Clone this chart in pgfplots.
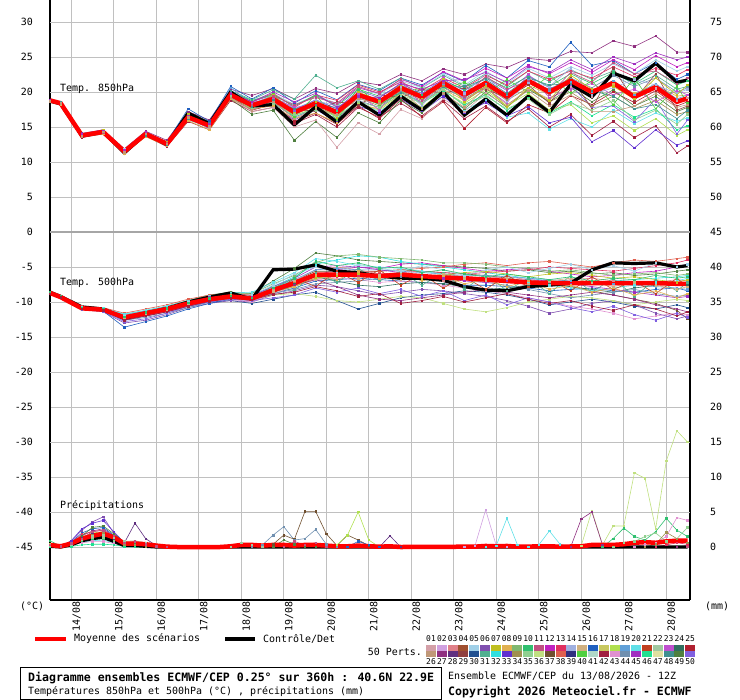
\documentclass[border=0pt]{standalone}
\usepackage{pgfplots}
\usepackage{pgfplotstable}
\pgfplotsset{compat=1.18}
\usepackage{fontspec}
\setmainfont{DejaVu Sans Mono}
\setmonofont{DejaVu Sans Mono}

\definecolor{gridgray}{HTML}{C0C0C0}
\definecolor{p01}{HTML}{D4A0A8}\definecolor{p02}{HTML}{D0A0E0}\definecolor{p03}{HTML}{E08088}\definecolor{p04}{HTML}{A05030}\definecolor{p05}{HTML}{A0D0E8}
\definecolor{p06}{HTML}{8050B0}\definecolor{p07}{HTML}{C0C020}\definecolor{p08}{HTML}{E0B050}\definecolor{p09}{HTML}{80B870}\definecolor{p10}{HTML}{30C070}
\definecolor{p11}{HTML}{C05080}\definecolor{p12}{HTML}{C020C0}\definecolor{p13}{HTML}{E03060}\definecolor{p14}{HTML}{A0B0E0}\definecolor{p15}{HTML}{D0B080}
\definecolor{p16}{HTML}{2060C0}\definecolor{p17}{HTML}{C8C860}\definecolor{p18}{HTML}{B0E050}\definecolor{p19}{HTML}{60A0D8}\definecolor{p20}{HTML}{60E0E8}
\definecolor{p21}{HTML}{C04020}\definecolor{p22}{HTML}{A0C8A0}\definecolor{p23}{HTML}{C050D0}\definecolor{p24}{HTML}{307060}\definecolor{p25}{HTML}{B02030}
\definecolor{p26}{HTML}{C09878}\definecolor{p27}{HTML}{903080}\definecolor{p28}{HTML}{603080}\definecolor{p29}{HTML}{904040}\definecolor{p30}{HTML}{205090}
\definecolor{p31}{HTML}{50B090}\definecolor{p32}{HTML}{30E0E0}\definecolor{p33}{HTML}{6030D0}\definecolor{p34}{HTML}{A09050}\definecolor{p35}{HTML}{90D090}
\definecolor{p36}{HTML}{C0E080}\definecolor{p37}{HTML}{705030}\definecolor{p38}{HTML}{E06050}\definecolor{p39}{HTML}{303080}\definecolor{p40}{HTML}{50D040}
\definecolor{p41}{HTML}{B0D8C8}\definecolor{p42}{HTML}{A02040}\definecolor{p43}{HTML}{E090D0}\definecolor{p44}{HTML}{7090B0}\definecolor{p45}{HTML}{A030C0}
\definecolor{p46}{HTML}{20E090}\definecolor{p47}{HTML}{E0E0A0}\definecolor{p48}{HTML}{409090}\definecolor{p49}{HTML}{508040}\definecolor{p50}{HTML}{8060E0}

% T850, one row per member (hours as column names)
\pgfplotstableread{
name 0 6 18 30 42 54 66 78 90 102 114 126 138 150 162 174 186 198 210 222 234 246 258 270 282 294 306 318 330 342 354 360
ct 18.7 18.3 13.7 14.3 11.3 14.0 12.5 17.0 15.5 20.0 18.0 18.2 15.3 17.9 15.7 18.6 16.7 19.4 17.4 20.0 16.7 19.0 16.7 19.4 17.1 21.1 19.3 22.7 21.6 24.1 21.4 21.7
mn 18.8 18.4 13.8 14.3 11.5 14.0 12.6 16.4 15.2 19.6 18.1 19.0 17.1 18.4 17.1 19.6 18.6 20.6 19.3 21.3 19.6 21.3 19.3 21.6 20.0 21.6 20.0 21.3 19.3 20.7 18.6 19.1
A 18.9 18.6 14.1 14.6 11.9 14.4 13.1 17.2 16.0 20.4 19.5 20.5 19.0 20.5 19.8 21.5 21.0 22.5 21.6 23.3 22.5 24.0 23.5 24.8 24.5 25.8 25.6 27.3 26.5 28.0 25.7 25.7
B 18.7 18.5 13.9 14.6 11.6 14.2 12.9 17.6 15.8 20.8 19.0 20.6 18.4 20.2 18.9 21.1 20.2 22.0 21.0 22.8 21.5 23.8 22.0 24.5 23.6 27.1 23.8 24.5 22.6 24.2 21.8 22.5
C 18.6 18.2 13.5 14.0 11.2 13.7 12.2 15.8 14.6 18.8 17.2 17.8 15.5 16.8 15.0 17.8 16.4 18.4 16.6 18.8 16.2 18.0 15.8 17.6 15.0 16.8 13.8 15.8 13.5 15.2 11.3 12.3
D 18.8 18.3 13.6 14.2 11.4 13.9 12.4 16.0 15.0 19.2 17.6 18.4 16.4 17.8 16.0 18.6 17.2 19.3 17.8 19.6 17.5 18.8 16.4 17.0 14.7 16.2 15.0 17.4 15.5 17.0 15.8 16.3
E 18.7 18.4 13.7 14.1 11.3 13.8 12.5 16.2 14.8 19.0 17.5 18.2 16.0 17.5 15.8 18.0 17.0 19.0 17.2 19.4 17.0 18.5 16.6 17.9 15.6 16.4 12.9 14.5 12.0 14.6 12.4 13.0
F 18.9 18.5 13.8 14.3 11.5 14.0 12.6 16.4 15.0 19.4 17.4 18.2 15.8 17.0 15.4 18.0 16.2 19.0 16.4 18.6 14.8 17.8 15.6 18.2 17.0 19.5 18.2 20.0 18.5 20.2 18.0 18.6
G 18.8 18.4 13.7 14.4 11.6 14.1 12.7 16.5 15.2 19.0 16.8 17.4 13.1 15.8 13.5 17.0 15.6 18.8 17.0 19.8 17.6 20.0 17.8 20.4 18.6 20.6 18.6 20.3 18.0 19.4 17.2 17.8
H 18.7 18.3 13.7 14.2 11.4 13.9 12.5 16.1 14.9 19.1 17.2 17.8 15.0 16.0 12.1 15.6 14.0 17.5 16.2 19.0 17.2 19.8 18.0 20.5 19.0 20.8 19.4 21.0 19.0 20.5 18.8 19.2
I 18.8 18.5 13.9 14.5 11.7 14.3 12.8 16.8 15.6 20.2 18.9 20.3 19.0 22.4 20.6 21.6 20.4 22.0 20.6 22.4 20.8 22.6 20.8 23.0 21.5 23.2 21.8 23.0 21.0 22.4 20.4 20.8
J 18.8 18.4 13.8 14.3 11.5 14.0 12.6 16.3 15.0 19.4 17.8 18.6 16.6 17.8 16.5 18.4 17.4 19.6 17.8 20.2 18.4 20.3 18.0 19.8 17.4 18.2 15.6 16.6 14.5 16.2 13.8 14.6
K 18.9 18.5 14.0 14.5 11.8 14.2 12.9 16.9 15.5 20.0 18.8 19.8 18.2 19.5 18.4 20.8 19.6 21.6 20.6 22.6 21.0 23.0 21.2 23.4 22.0 23.6 22.4 24.0 22.6 24.6 23.0 23.6
L 18.6 18.2 13.6 14.0 11.2 13.6 12.3 15.9 14.6 19.0 17.6 18.0 16.2 17.0 15.6 18.2 17.6 19.8 18.6 20.4 18.8 20.8 19.2 21.0 19.6 21.4 19.6 21.2 19.8 21.0 19.4 19.6
M 18.9 18.6 14.0 14.6 11.7 14.3 12.8 16.7 15.6 20.1 18.6 19.6 18.0 19.4 18.2 20.6 19.8 21.8 20.8 22.9 21.6 23.4 22.0 23.8 22.6 24.2 22.8 24.6 23.2 25.2 23.6 24.2
N 18.7 18.3 13.8 14.4 11.5 14.1 12.6 16.6 15.4 20.6 18.4 19.4 17.6 18.8 17.6 19.8 18.8 20.4 19.0 21.0 19.4 21.2 19.6 21.8 20.2 21.4 20.0 21.6 19.6 21.2 19.0 19.6
O 18.8 18.4 13.8 14.3 11.5 14.0 12.6 16.4 15.2 19.6 18.0 19.2 17.4 18.6 17.4 19.4 18.2 20.0 18.4 20.2 18.2 19.6 17.4 19.2 17.0 18.6 16.6 18.2 16.4 17.6 14.6 15.2
P 18.8 18.4 13.9 14.4 11.6 14.1 12.7 16.6 15.3 19.8 18.3 19.2 17.4 18.9 17.6 20.2 19.2 21.2 19.8 21.8 20.2 22.0 20.2 22.4 20.6 21.0 17.8 18.0 15.8 19.0 14.0 16.0
Q 18.7 18.4 13.7 14.2 11.4 13.9 12.5 16.3 15.1 19.3 17.9 18.8 16.8 18.0 16.6 19.2 18.0 20.2 18.8 20.8 19.0 20.8 18.8 20.6 18.6 20.0 18.0 19.4 17.6 18.8 16.8 17.2
R 18.9 18.5 13.9 14.4 11.6 14.1 12.7 16.5 15.3 19.9 18.6 19.8 17.8 19.6 18.8 21.0 20.0 21.4 20.2 22.0 20.6 22.4 21.0 23.0 21.8 23.0 22.0 23.6 22.2 23.4 22.4 23.2
S 18.8 18.3 13.7 14.3 11.4 14.0 12.5 16.2 15.1 19.5 17.9 18.6 16.4 17.6 16.2 18.8 17.8 20.0 18.6 20.6 19.2 21.0 19.6 21.6 20.4 22.0 20.6 22.4 20.8 22.0 20.0 20.6
T 18.8 18.4 13.8 14.3 11.5 14.0 12.6 16.5 15.4 20.0 18.8 19.6 18.0 19.6 18.0 20.4 19.4 21.0 19.6 21.6 20.4 22.0 20.6 22.2 20.8 22.6 21.2 22.8 21.2 23.0 21.0 21.6
U 18.8 18.5 13.9 14.3 11.6 14.2 12.8 16.6 15.0 19.8 18.4 19.2 17.8 18.2 16.8 19.8 17.4 21.6 18.2 22.2 18.8 20.6 18.4 22.6 19.2 20.4 21.2 19.6 20.4 18.6 20.2 19.6
V 18.7 18.4 13.8 14.2 11.4 14.0 12.6 16.4 15.6 19.6 17.6 19.8 16.4 19.6 16.0 20.6 18.2 19.8 20.6 20.4 21.4 19.6 21.8 20.0 22.4 19.8 21.6 18.2 22.0 17.6 20.8 18.4
W 18.8 18.4 13.8 14.4 11.5 14.1 12.6 16.4 15.3 19.7 18.6 18.4 17.6 17.2 18.6 18.2 19.6 19.2 20.4 19.8 20.6 20.4 19.2 21.0 18.4 22.2 17.6 23.4 18.8 22.6 17.4 18.0
X 18.8 18.3 13.7 14.3 11.5 14.0 12.6 16.3 15.2 19.4 18.2 19.6 16.8 18.8 18.0 18.8 19.4 20.8 18.0 21.8 19.8 22.6 18.6 21.4 20.8 23.4 19.6 20.6 21.8 21.0 19.8 20.4
Y 18.9 18.4 13.9 14.5 11.4 14.2 12.9 16.8 15.0 19.4 17.8 19.6 17.0 18.6 16.4 20.0 18.8 21.0 19.0 21.8 18.6 20.8 17.8 20.6 18.8 22.4 20.4 20.8 19.0 22.0 19.6 21.0
Z 18.8 18.5 13.7 14.4 11.6 13.8 12.5 16.2 15.6 20.2 17.8 18.8 17.6 18.2 17.8 19.2 19.0 19.8 20.2 20.6 20.8 21.8 19.8 22.0 21.0 21.2 20.2 19.4 17.6 18.2 16.2 17.4
AA 18.7 18.3 13.8 14.2 11.4 14.0 12.7 16.6 15.3 19.9 18.2 19.4 18.2 19.2 18.4 20.8 19.8 21.8 18.8 21.4 19.4 22.2 20.4 21.6 19.6 22.8 21.4 24.2 22.6 23.0 21.2 22.0
AB 18.8 18.4 13.8 14.3 11.5 14.1 12.6 16.5 15.1 19.5 17.6 18.4 16.8 17.4 16.6 18.6 17.8 19.6 18.4 20.4 18.0 19.4 17.6 19.0 16.8 18.4 17.4 18.8 16.0 17.4 15.4 16.8
AC 18.8 18.4 13.8 14.4 11.5 14.1 12.6 16.6 15.4 19.8 18.6 20.0 18.6 19.8 17.8 19.4 19.2 21.2 20.4 21.6 21.8 22.8 21.4 23.6 22.8 24.6 23.2 25.0 24.0 25.6 24.6 25.0
AD 18.7 18.4 13.7 14.3 11.4 14.0 12.6 16.4 15.1 19.2 17.4 18.6 16.2 17.6 16.8 19.0 18.4 20.4 17.6 19.8 17.8 20.6 18.2 20.2 18.0 19.6 17.2 17.2 18.0 19.8 17.8 18.2
}\tEightRaw
\pgfplotstabletranspose[colnames from=name,input colnames to=hr]{\tEight}{\tEightRaw}

% T500, one row per member
\pgfplotstableread{
name 0 6 18 30 42 54 66 78 90 102 114 126 138 150 162 174 186 198 210 222 234 246 258 270 282 294 306 318 330 342 354 360
ct -8.6 -9.2 -10.7 -11.0 -12.3 -11.6 -10.9 -10.0 -9.3 -8.7 -9.6 -5.4 -5.3 -4.7 -5.6 -5.8 -6.3 -6.6 -6.6 -6.9 -7.8 -8.3 -8.4 -7.8 -7.6 -7.3 -5.4 -4.4 -4.5 -4.4 -5.0 -4.8
mn -8.7 -9.3 -10.9 -11.1 -12.2 -11.6 -11.0 -10.2 -9.6 -9.2 -9.5 -8.3 -7.3 -6.1 -6.1 -6.1 -6.3 -6.1 -6.3 -6.5 -6.6 -6.8 -7.0 -7.2 -7.3 -7.3 -7.3 -7.3 -7.3 -7.3 -7.4 -7.4
a -8.6 -9.2 -10.8 -10.9 -12.0 -11.3 -10.6 -9.8 -9.0 -8.6 -8.8 -7.0 -5.2 -3.0 -3.4 -4.0 -4.2 -4.4 -4.6 -4.8 -5.0 -5.2 -5.6 -5.4 -5.8 -5.6 -6.0 -5.8 -6.2 -6.0 -5.6 -5.4
b -8.8 -9.4 -11.0 -11.3 -12.6 -12.0 -11.4 -10.6 -10.0 -9.8 -10.2 -9.6 -9.0 -8.6 -9.8 -11.0 -10.2 -9.4 -9.0 -8.8 -8.4 -8.6 -9.0 -9.6 -10.4 -10.0 -9.6 -10.0 -10.6 -11.0 -10.4 -10.8
c -8.7 -9.3 -10.9 -11.2 -12.4 -11.8 -11.2 -10.4 -9.8 -9.4 -9.8 -8.6 -7.6 -6.2 -5.4 -5.0 -5.2 -4.6 -4.4 -4.8 -5.2 -5.6 -5.4 -5.2 -5.6 -6.0 -6.4 -6.2 -5.8 -5.6 -5.0 -4.6
d -8.6 -9.2 -10.7 -10.9 -11.8 -11.2 -10.6 -9.9 -9.3 -8.9 -9.0 -7.8 -6.4 -4.6 -4.0 -3.4 -3.6 -4.2 -4.6 -5.0 -5.4 -5.8 -6.2 -6.6 -7.0 -7.4 -7.2 -7.0 -6.8 -6.6 -6.4 -6.2
e -8.8 -9.4 -11.1 -11.4 -13.0 -12.6 -11.8 -10.8 -10.2 -9.8 -10.0 -9.0 -8.4 -7.6 -7.8 -8.4 -9.0 -8.6 -8.2 -8.4 -8.8 -9.2 -9.8 -10.6 -11.6 -11.0 -10.2 -9.8 -10.4 -11.6 -12.4 -12.0
f -8.7 -9.3 -10.9 -11.1 -12.2 -11.6 -11.0 -10.2 -9.5 -9.0 -9.2 -8.0 -7.0 -5.6 -5.6 -5.8 -5.6 -5.4 -5.6 -5.8 -6.0 -6.2 -6.6 -7.0 -7.4 -7.8 -8.4 -9.0 -9.6 -10.2 -11.2 -12.4
g -8.6 -9.1 -10.6 -10.8 -11.6 -11.0 -10.4 -9.6 -9.0 -8.8 -9.0 -8.2 -7.2 -6.0 -5.8 -5.6 -5.6 -5.4 -5.2 -5.0 -4.6 -4.4 -4.8 -4.4 -4.2 -4.6 -5.0 -4.4 -4.0 -4.2 -3.8 -3.6
h -8.8 -9.3 -11.0 -11.3 -13.6 -12.8 -12.0 -11.0 -10.2 -9.6 -9.6 -8.8 -8.0 -7.0 -6.8 -6.6 -6.8 -7.0 -7.2 -7.4 -7.6 -7.6 -7.8 -8.0 -8.4 -8.2 -8.0 -8.4 -8.6 -8.2 -8.0 -8.4
i -8.7 -9.2 -10.8 -11.0 -12.0 -11.4 -10.8 -10.0 -9.4 -9.0 -9.4 -8.2 -7.0 -5.4 -5.0 -5.4 -6.0 -6.2 -6.6 -7.0 -6.8 -6.6 -6.4 -6.8 -7.2 -6.8 -6.6 -7.0 -7.4 -7.2 -6.8 -7.0
j -8.6 -9.3 -10.9 -11.2 -12.3 -11.8 -11.2 -10.4 -9.8 -9.5 -9.8 -9.0 -8.8 -9.2 -9.8 -10.0 -9.6 -9.2 -9.4 -10.2 -11.0 -11.4 -10.8 -10.0 -9.6 -9.2 -9.4 -9.8 -10.4 -10.0 -9.6 -9.8
k -8.7 -9.3 -10.9 -11.1 -12.1 -11.5 -10.9 -10.1 -9.4 -8.8 -8.8 -7.4 -6.2 -4.4 -3.4 -3.2 -3.6 -3.8 -4.0 -4.4 -4.4 -4.6 -5.0 -5.2 -5.6 -5.4 -5.8 -6.2 -6.0 -5.8 -6.2 -6.0
l -8.8 -9.3 -10.9 -11.2 -12.4 -11.9 -11.3 -10.5 -9.9 -9.6 -10.0 -8.8 -7.8 -6.8 -6.6 -6.8 -7.2 -7.0 -7.2 -7.6 -8.0 -8.4 -8.8 -9.4 -10.0 -10.6 -11.0 -11.6 -12.4 -12.0 -11.6 -11.8
m -8.6 -9.2 -10.8 -11.0 -11.9 -11.3 -10.8 -10.0 -9.4 -9.0 -9.2 -8.0 -6.8 -5.4 -5.2 -5.4 -5.4 -5.6 -5.8 -6.0 -6.2 -6.2 -6.4 -6.6 -6.8 -7.0 -7.2 -7.4 -7.6 -7.8 -8.0 -8.2
n -8.7 -9.3 -11.0 -11.2 -12.5 -12.0 -11.4 -10.6 -9.8 -9.2 -9.2 -8.4 -7.6 -6.6 -6.4 -6.2 -6.0 -5.8 -5.6 -5.8 -6.0 -5.8 -5.6 -5.4 -5.0 -5.2 -5.4 -5.6 -5.2 -4.8 -4.4 -4.0
o -8.7 -9.2 -10.8 -11.1 -12.1 -11.5 -10.9 -10.1 -9.5 -9.1 -9.4 -8.4 -7.4 -6.4 -7.0 -7.6 -7.8 -7.4 -7.2 -7.4 -7.8 -8.2 -8.0 -7.6 -7.4 -7.8 -8.2 -8.6 -8.0 -7.6 -7.2 -7.6
p -8.6 -9.2 -10.7 -10.9 -11.7 -11.2 -10.6 -9.8 -9.2 -8.7 -8.6 -7.2 -5.8 -3.8 -4.2 -4.8 -5.0 -5.2 -5.6 -6.0 -6.4 -6.8 -7.0 -7.2 -7.6 -8.0 -8.4 -8.0 -7.6 -7.2 -7.0 -6.6
q -8.8 -9.4 -11.0 -11.2 -12.6 -12.2 -11.6 -10.8 -10.0 -9.4 -9.6 -8.8 -8.2 -7.4 -7.2 -7.0 -6.6 -6.4 -6.2 -6.4 -6.8 -7.2 -7.6 -8.2 -8.8 -9.4 -9.0 -8.6 -8.2 -8.8 -9.2 -9.0
r -8.7 -9.3 -10.9 -11.1 -12.2 -11.6 -11.0 -10.2 -9.6 -9.2 -9.4 -8.6 -7.8 -6.6 -6.2 -6.0 -6.4 -6.8 -6.6 -6.2 -5.8 -5.6 -6.0 -6.4 -6.0 -5.8 -6.2 -6.6 -6.4 -6.8 -7.2 -6.8
s -8.6 -9.2 -10.8 -11.0 -12.0 -11.4 -10.8 -10.0 -9.3 -8.9 -9.1 -7.8 -6.6 -5.0 -4.8 -5.0 -5.4 -5.8 -6.2 -6.6 -7.0 -7.2 -7.0 -6.8 -7.0 -7.4 -7.8 -8.2 -8.6 -9.0 -9.4 -9.2
t -8.8 -9.4 -11.0 -11.3 -12.5 -11.9 -11.3 -10.5 -9.8 -9.4 -9.6 -8.6 -7.6 -6.8 -7.8 -9.0 -9.6 -9.8 -9.4 -9.0 -8.6 -8.2 -8.6 -9.0 -9.4 -9.0 -8.6 -9.0 -9.6 -10.4 -11.0 -11.4
u -8.7 -9.3 -10.8 -11.2 -12.1 -11.8 -10.8 -10.4 -9.4 -9.4 -9.0 -8.8 -6.6 -7.8 -5.6 -7.2 -5.4 -7.6 -6.0 -8.0 -6.4 -8.2 -6.2 -7.8 -6.8 -8.4 -6.4 -8.2 -7.0 -8.8 -6.6 -7.8
v -8.7 -9.2 -11.0 -11.0 -12.4 -11.4 -11.2 -10.0 -9.8 -8.8 -9.8 -7.6 -8.4 -5.8 -7.2 -5.2 -7.0 -5.6 -7.6 -5.8 -8.2 -6.0 -8.4 -6.6 -8.8 -6.2 -8.6 -6.6 -9.2 -6.8 -8.4 -7.2
w1 -8.7 -9.3 -10.9 -11.0 -12.2 -11.8 -10.8 -10.0 -9.6 -9.0 -9.6 -8.0 -7.8 -6.2 -6.8 -5.6 -6.6 -5.8 -7.0 -6.2 -7.4 -6.8 -7.8 -7.0 -8.2 -7.6 -8.6 -8.0 -9.0 -8.4 -9.4 -8.8
w2 -8.6 -9.2 -10.8 -11.1 -12.0 -11.4 -11.0 -10.0 -9.4 -9.2 -9.0 -7.6 -6.0 -5.0 -5.8 -4.6 -5.2 -5.6 -4.8 -5.4 -6.2 -5.4 -5.0 -5.8 -5.2 -4.6 -5.4 -4.8 -5.6 -4.4 -5.0 -4.6
w3 -8.8 -9.4 -11.0 -11.3 -12.8 -12.4 -11.6 -10.6 -10.0 -9.6 -9.8 -9.4 -9.0 -8.0 -8.6 -8.0 -8.8 -8.2 -9.2 -8.4 -9.8 -9.0 -10.4 -9.4 -10.0 -10.8 -11.4 -10.6 -11.8 -12.6 -11.6 -12.2
w4 -8.7 -9.3 -10.9 -11.1 -12.3 -11.7 -11.1 -10.3 -9.7 -9.3 -9.5 -8.5 -7.0 -6.8 -6.0 -6.6 -6.2 -6.8 -6.4 -6.0 -6.6 -7.0 -6.6 -7.4 -7.0 -6.6 -7.2 -7.8 -7.2 -7.6 -8.2 -7.8
w5 -8.6 -9.2 -10.8 -11.0 -12.1 -11.5 -10.9 -10.1 -9.5 -9.1 -9.4 -8.0 -6.6 -4.2 -4.8 -4.4 -5.2 -5.0 -5.8 -5.4 -6.0 -6.4 -6.0 -6.4 -6.8 -6.4 -7.0 -6.6 -6.8 -6.2 -6.6 -6.4
w6 -8.8 -9.3 -11.0 -11.2 -12.6 -12.0 -11.4 -10.6 -9.9 -9.5 -9.7 -8.9 -8.6 -7.8 -8.4 -9.2 -8.8 -10.2 -9.8 -9.2 -10.0 -9.4 -8.8 -9.6 -10.2 -9.8 -10.6 -11.2 -10.4 -11.0 -12.0 -11.4
}\tFiveRaw
\pgfplotstabletranspose[colnames from=name,input colnames to=hr]{\tFive}{\tFiveRaw}

\pgfplotsset{
  mem/.style={line width=0.6bp, mark=square*, mark size=0.75bp},
  pr/.style={mem},
}
\newcommand{\tf}{\fontsize{10}{12}\selectfont}

\begin{document}
\begin{tikzpicture}
\useasboundingbox (0,0) rectangle (740bp,-700bp);

\begin{axis}[
  at={(50bp,-600bp)}, anchor=south west,
  width=640bp, height=600bp, scale only axis,
  xmin=0, xmax=361.4, ymin=-52.571, ymax=33.143,
  axis x line*=bottom, axis y line*=box,
  axis line style={line width=1.2bp, black},
  xtick={12,36,...,348},
  xticklabels={14/08,15/08,16/08,17/08,18/08,19/08,20/08,21/08,22/08,23/08,24/08,25/08,26/08,27/08,28/08},
  ytick={-45,-40,...,30},
  yticklabels={-45,-40,-35,-30,-25,-20,-15,-10,-5,0,5,10,15,20,25,30},
  yticklabel pos=left,
  major tick length=0pt,
  xmajorgrids, ymajorgrids,
  major grid style={line width=1bp, color=gridgray},
  extra y ticks={-40,-30,-20,-10,10,20,30},
  extra y tick labels={},
  extra y tick style={grid style={line width=2bp, color=gridgray}},
  tick label style={font=\tf},
  xticklabel style={rotate=90, anchor=north east, inner sep=1bp},
  yticklabel style={anchor=east, inner sep=0pt, xshift=-17bp},
  clip=true,
]
\draw[line width=2.6bp, color=gray!70] (axis cs:0,0) -- (axis cs:361.4,0);

% ---- T850 members
\addplot[mem,p27] table[x=hr,y=A]{\tEight};
\addplot[mem,p16] table[x=hr,y=B]{\tEight};
\addplot[mem,p42] table[x=hr,y=C]{\tEight};
\addplot[mem,p20] table[x=hr,y=D]{\tEight};
\addplot[mem,p33] table[x=hr,y=E]{\tEight};
\addplot[mem,p25] table[x=hr,y=F]{\tEight};
\addplot[mem,p49] table[x=hr,y=G]{\tEight};
\addplot[mem,p01] table[x=hr,y=H]{\tEight};
\addplot[mem,p31] table[x=hr,y=I]{\tEight};
\addplot[mem,p18] table[x=hr,y=J]{\tEight};
\addplot[mem,p05] table[x=hr,y=K]{\tEight};
\addplot[mem,p08] table[x=hr,y=L]{\tEight};
\addplot[mem,p12] table[x=hr,y=M]{\tEight};
\addplot[mem,p19] table[x=hr,y=N]{\tEight};
\addplot[mem,p46] table[x=hr,y=O]{\tEight};
\addplot[mem,p50] table[x=hr,y=P]{\tEight};
\addplot[mem,p34] table[x=hr,y=Q]{\tEight};
\addplot[mem,p13] table[x=hr,y=R]{\tEight};
\addplot[mem,p44] table[x=hr,y=S]{\tEight};
\addplot[mem,p10] table[x=hr,y=T]{\tEight};
\addplot[mem,p23] table[x=hr,y=U]{\tEight};
\addplot[mem,p40] table[x=hr,y=V]{\tEight};
\addplot[mem,p29] table[x=hr,y=W]{\tEight};
\addplot[mem,p14] table[x=hr,y=X]{\tEight};
\addplot[mem,p07] table[x=hr,y=Y]{\tEight};
\addplot[mem,p48] table[x=hr,y=Z]{\tEight};
\addplot[mem,p11] table[x=hr,y=AA]{\tEight};
\addplot[mem,p35] table[x=hr,y=AB]{\tEight};
\addplot[mem,p45] table[x=hr,y=AC]{\tEight};
\addplot[mem,p26] table[x=hr,y=AD]{\tEight};

% ---- T500 members
\addplot[mem,p49] table[x=hr,y=a]{\tFive};
\addplot[mem,p30] table[x=hr,y=b]{\tFive};
\addplot[mem,p12] table[x=hr,y=c]{\tFive};
\addplot[mem,p32] table[x=hr,y=d]{\tFive};
\addplot[mem,p06] table[x=hr,y=e]{\tFive};
\addplot[mem,p37] table[x=hr,y=f]{\tFive};
\addplot[mem,p38] table[x=hr,y=g]{\tFive};
\addplot[mem,p16] table[x=hr,y=h]{\tFive};
\addplot[mem,p03] table[x=hr,y=i]{\tFive};
\addplot[mem,p36] table[x=hr,y=j]{\tFive};
\addplot[mem,p09] table[x=hr,y=k]{\tFive};
\addplot[mem,p43] table[x=hr,y=l]{\tFive};
\addplot[mem,p19] table[x=hr,y=m]{\tFive};
\addplot[mem,p13] table[x=hr,y=n]{\tFive};
\addplot[mem,p24] table[x=hr,y=o]{\tFive};
\addplot[mem,p20] table[x=hr,y=p]{\tFive};
\addplot[mem,p44] table[x=hr,y=q]{\tFive};
\addplot[mem,p07] table[x=hr,y=r]{\tFive};
\addplot[mem,p45] table[x=hr,y=s]{\tFive};
\addplot[mem,p27] table[x=hr,y=t]{\tFive};
\addplot[mem,p21] table[x=hr,y=u]{\tFive};
\addplot[mem,p31] table[x=hr,y=v]{\tFive};
\addplot[mem,p08] table[x=hr,y=w1]{\tFive};
\addplot[mem,p05] table[x=hr,y=w2]{\tFive};
\addplot[mem,p50] table[x=hr,y=w3]{\tFive};
\addplot[mem,p15] table[x=hr,y=w4]{\tFive};
\addplot[mem,p10] table[x=hr,y=w5]{\tFive};
\addplot[mem,p42] table[x=hr,y=w6]{\tFive};

% ---- precipitation members (mm, drawn on the -45 baseline)
\addplot[pr,p37] table[x=h,y expr=\thisrow{p}-45,row sep=\\]{h p\\0 0.2\\6 0\\12 0.4\\18 1.2\\24 1.6\\30 1.8\\36 1.2\\42 0.3\\48 0.2\\54 0\\120 0\\126 0.4\\132 1.7\\138 1.1\\144 5.1\\150 5.1\\156 1.9\\162 0.2\\168 1.7\\174 1.0\\180 0.2\\186 0\\360 0\\};
\addplot[pr,p44] table[x=h,y expr=\thisrow{p}-45,row sep=\\]{h p\\0 0.3\\6 0.1\\12 0.5\\18 1.0\\24 1.4\\30 1.6\\36 1.0\\42 0.4\\48 0.3\\54 0.1\\60 0\\114 0\\120 0.3\\126 1.7\\132 2.9\\138 1.0\\144 1.2\\150 2.5\\156 0.4\\162 0\\360 0\\};
\addplot[pr,p18] table[x=h,y expr=\thisrow{p}-45,row sep=\\]{h p\\0 0.4\\6 0.1\\12 0.6\\18 1.4\\24 2.0\\30 2.2\\36 1.4\\42 0.5\\48 0.4\\54 0.1\\60 0\\156 0\\162 0.3\\168 1.7\\174 5.0\\180 1.0\\186 0\\360 0\\};
\addplot[pr,p36] table[x=h,y expr=\thisrow{p}-45,row sep=\\]{h p\\0 0.3\\6 0\\12 0.4\\18 0.9\\24 1.3\\30 1.5\\36 0.9\\42 0.3\\48 0.2\\54 0\\294 0\\300 0.2\\306 5.2\\312 0.3\\318 3.0\\324 3.0\\330 10.6\\336 9.8\\342 2.6\\348 12.3\\354 16.6\\360 15.0\\};
\addplot[pr,p06] table[x=h,y expr=\thisrow{p}-45,row sep=\\]{h p\\0 0.3\\6 0.1\\12 0.8\\18 2.4\\24 3.6\\30 4.3\\36 2.0\\42 0.4\\48 0.5\\54 0.2\\60 0\\360 0\\};
\addplot[pr,p28] table[x=h,y expr=\thisrow{p}-45,row sep=\\]{h p\\0 0.2\\6 0\\12 0.5\\18 1.3\\24 1.8\\30 2.0\\36 1.2\\42 0.6\\48 3.4\\54 1.2\\60 0.2\\66 0\\186 0\\192 1.6\\198 0\\360 0\\};
\addplot[pr,p02] table[x=h,y expr=\thisrow{p}-45,row sep=\\]{h p\\0 0.3\\6 0.1\\12 0.5\\18 1.1\\24 1.4\\30 1.5\\36 0.9\\42 0.3\\48 0.2\\54 0\\234 0\\240 0.2\\246 5.3\\252 0.2\\258 0\\360 0\\};
\addplot[pr,p20] table[x=h,y expr=\thisrow{p}-45,row sep=\\]{h p\\0 0.2\\6 0\\12 0.3\\18 0.7\\24 0.9\\30 1.0\\36 0.6\\42 0.2\\48 0.1\\54 0\\246 0\\252 0.2\\258 4.1\\264 0.3\\270 0\\276 0.3\\282 2.3\\288 0.4\\294 0\\360 0\\};
\addplot[pr,p27] table[x=h,y expr=\thisrow{p}-45,row sep=\\]{h p\\0 0.3\\6 0.1\\12 0.6\\18 1.6\\24 2.3\\30 2.6\\36 1.6\\42 0.5\\48 0.4\\54 0.1\\60 0\\294 0\\300 4.0\\306 5.0\\312 0.3\\318 0\\354 0\\360 0.2\\};
\addplot[pr,p10] table[x=h,y expr=\thisrow{p}-45,row sep=\\]{h p\\0 0.9\\6 0.1\\12 0.4\\18 0.9\\24 1.1\\30 1.2\\36 0.7\\42 0.3\\48 0.2\\54 0\\312 0\\318 1.2\\324 2.7\\330 1.5\\336 1.0\\342 2.2\\348 4.1\\354 2.4\\360 1.5\\};
\addplot[pr,p43] table[x=h,y expr=\thisrow{p}-45,row sep=\\]{h p\\0 0.2\\6 0\\12 0.3\\18 0.6\\24 0.8\\30 0.8\\36 0.5\\42 0.2\\48 0.1\\54 0\\330 0\\336 0.4\\342 0.6\\348 1.5\\354 4.2\\360 3.8\\};
\addplot[pr,p35] table[x=h,y expr=\thisrow{p}-45,row sep=\\]{h p\\0 0.3\\6 0.1\\12 0.5\\18 1.1\\24 1.3\\30 1.4\\36 0.9\\42 0.4\\48 0.3\\54 0.1\\60 0\\318 0\\324 0.6\\330 0.8\\336 1.5\\342 2.0\\348 0.8\\354 1.2\\360 2.8\\};
\addplot[pr,p16] table[x=h,y expr=\thisrow{p}-45,row sep=\\]{h p\\0 0.3\\6 0.1\\12 0.7\\18 2.0\\24 2.6\\30 2.8\\36 1.7\\42 0.5\\48 0.5\\54 0.2\\60 0\\168 0\\174 0.8\\180 0.3\\186 0\\360 0\\};
\addplot[pr,p46] table[x=h,y expr=\thisrow{p}-45,row sep=\\]{h p\\0 0.1\\6 0\\12 0.1\\18 0.3\\24 0.4\\30 0.4\\36 0.3\\42 0.1\\48 0\\360 0\\};
\addplot[pr,p33] table[x=h,y expr=\thisrow{p}-45,row sep=\\]{h p\\0 0.3\\6 0.1\\12 0.9\\18 2.6\\24 3.4\\30 3.8\\36 2.2\\42 0.6\\48 0.6\\54 0.3\\60 0.1\\66 0\\360 0\\};
\addplot[pr,p13] table[x=h,y expr=\thisrow{p}-45,row sep=\\]{h p\\0 0.2\\6 0\\12 0.6\\18 1.8\\24 2.2\\30 2.4\\36 1.5\\42 0.5\\48 0.4\\54 0.1\\60 0\\342 0\\348 0.3\\354 0.6\\360 0.4\\};
\addplot[pr,p34] table[x=h,y expr=\thisrow{p}-45,row sep=\\]{h p\\0 0.2\\6 0\\12 0.4\\18 1.0\\24 1.7\\30 2.0\\36 1.3\\42 0.4\\48 0.3\\54 0\\336 0\\342 0.4\\348 2.1\\354 1.2\\360 0.6\\};
\addplot[pr,p49] table[x=h,y expr=\thisrow{p}-45,row sep=\\]{h p\\0 0.3\\6 0.1\\12 0.6\\18 1.6\\24 2.8\\30 3.0\\36 1.9\\42 0.7\\48 0.6\\54 0.3\\60 0\\126 0\\132 1.0\\138 0.4\\144 0.1\\150 0\\360 0\\};
\addplot[pr,p22] table[x=h,y expr=\thisrow{p}-45,row sep=\\]{h p\\0 0.2\\6 0\\12 0.4\\18 1.0\\24 1.5\\30 1.7\\36 1.3\\42 0.8\\48 0.9\\54 0.6\\60 0.2\\66 0\\102 0\\108 0.6\\114 0.3\\120 0\\360 0\\};
\addplot[pr,p11] table[x=h,y expr=\thisrow{p}-45,row sep=\\]{h p\\0 0.3\\6 0.1\\12 0.5\\18 1.2\\24 2.2\\30 2.4\\36 1.6\\42 0.6\\48 0.8\\54 0.4\\60 0.1\\66 0\\132 0\\138 0.8\\144 0.3\\150 0.6\\156 0\\360 0\\};

% ---- control (black)
\addplot[black,line width=3.2bp] table[x=hr,y=ct]{\tEight};
\addplot[black,line width=3.2bp] table[x=hr,y=ct]{\tFive};
\addplot[black,line width=3.2bp] table[x=h,y expr=\thisrow{p}-45,row sep=\\]{h p\\0 0.1\\6 0\\12 0.3\\18 0.9\\24 1.2\\30 1.4\\36 0.8\\42 0.2\\48 0.2\\54 0.1\\60 0\\360 0\\};

% ---- mean (red)
\addplot[red,line width=4.5bp] table[x=hr,y=mn]{\tEight};
\addplot[red,line width=4.5bp] table[x=hr,y=mn]{\tFive};
\addplot[red,line width=4.5bp] table[x=h,y expr=\thisrow{p}-45,row sep=\\]{h p\\0 0.3\\6 0.1\\12 0.5\\18 1.2\\24 1.6\\30 1.9\\36 1.4\\42 0.5\\48 0.5\\54 0.4\\60 0.2\\66 0.05\\72 0\\96 0\\102 0.1\\108 0.3\\114 0.3\\120 0.2\\126 0.3\\132 0.3\\138 0.2\\144 0.3\\150 0.3\\156 0.2\\162 0.1\\168 0.1\\174 0.2\\180 0.1\\186 0.05\\192 0.1\\198 0\\240 0.05\\246 0.15\\252 0.1\\258 0.15\\264 0.05\\282 0.1\\288 0.05\\300 0.1\\306 0.3\\312 0.3\\318 0.3\\324 0.4\\330 0.6\\336 0.7\\342 0.6\\348 0.8\\354 0.9\\360 0.9\\};

\node[anchor=west,inner sep=0pt,font=\tf] at (axis cs:5.6,20.4) {Temp. 850hPa};
\node[anchor=west,inner sep=0pt,font=\tf] at (axis cs:5.6,-7.3) {Temp. 500hPa};
\node[anchor=west,inner sep=0pt,font=\tf] at (axis cs:5.6,-39.1) {Précipitations};
\end{axis}

% right-hand scale (value + 45)
\begin{axis}[
  at={(50bp,-600bp)}, anchor=south west,
  width=640bp, height=600bp, scale only axis,
  xmin=0, xmax=361.4, ymin=-7.571, ymax=78.143,
  hide x axis, axis y line*=right,
  axis line style={draw=none},
  ytick={0,5,...,75},
  yticklabels={0,5,10,15,20,25,30,35,40,45,50,55,60,65,70,75},
  yticklabel pos=right,
  major tick length=0pt,
  tick label style={font=\tf},
  yticklabel style={anchor=west, inner sep=0pt, xshift=20bp},
]
\addplot[draw=none] coordinates {(0,0)};
\end{axis}

% units
\node[anchor=west,inner sep=0pt,font=\tf] at (20bp,-606bp) {(°C)};
\node[anchor=west,inner sep=0pt,font=\tf] at (705bp,-606bp) {(mm)};

% legend
\draw[red,line width=4bp] (35bp,-639bp) -- (66bp,-639bp);
\node[anchor=west,inner sep=0pt,font=\tf] at (74bp,-639bp) {Moyenne des scénarios};
\draw[black,line width=4bp] (225bp,-639bp) -- (255bp,-639bp);
\node[anchor=west,inner sep=0pt,font=\tf] at (263bp,-639bp) {Contrôle/Det};
\node[anchor=east,inner sep=0pt,font=\tf] at (422bp,-652bp) {50 Perts.};

\foreach \c [count=\i from 0] in {p01,p02,p03,p04,p05,p06,p07,p08,p09,p10,p11,p12,p13,p14,p15,p16,p17,p18,p19,p20,p21,p22,p23,p24,p25}{
  \pgfmathtruncatemacro\k{\i+1}
  \pgfmathsetmacro\xa{426+10.8*\i}
  \pgfmathsetmacro\xb{436+10.8*\i}
  \pgfmathsetmacro\xc{431+10.8*\i}
  \fill[\c] (\xa bp,-645bp) rectangle (\xb bp,-650.5bp);
  \node[inner sep=0pt,font=\fontsize{8}{9}\selectfont] at (\xc bp,-639bp) {\ifnum\k<10 0\fi\k};
}
\foreach \c [count=\i from 0] in {p26,p27,p28,p29,p30,p31,p32,p33,p34,p35,p36,p37,p38,p39,p40,p41,p42,p43,p44,p45,p46,p47,p48,p49,p50}{
  \pgfmathtruncatemacro\k{\i+26}
  \pgfmathsetmacro\xa{426+10.8*\i}
  \pgfmathsetmacro\xb{436+10.8*\i}
  \pgfmathsetmacro\xc{431+10.8*\i}
  \fill[\c] (\xa bp,-651bp) rectangle (\xb bp,-656.5bp);
  \node[inner sep=0pt,font=\fontsize{8}{9}\selectfont] at (\xc bp,-662bp) {\k};
}

% footer
\draw[line width=1bp] (20bp,-667bp) rectangle (441bp,-699bp);
\node[anchor=west,inner sep=0pt,font=\fontsize{11.6}{13}\selectfont\bfseries] at (28bp,-678bp) {Diagramme ensembles ECMWF/CEP 0.25° sur 360h : 40.6N 22.9E};
\node[anchor=west,inner sep=0pt,font=\tf] at (28bp,-692bp) {Températures 850hPa et 500hPa (°C) , précipitations (mm)};
\node[anchor=west,inner sep=0pt,font=\tf] at (448bp,-676bp) {Ensemble ECMWF/CEP du 13/08/2026 - 12Z};
\node[anchor=west,inner sep=0pt,font=\fontsize{11.6}{13}\selectfont\bfseries] at (448bp,-692bp) {Copyright 2026 Meteociel.fr - ECMWF};
\end{tikzpicture}
\end{document}
